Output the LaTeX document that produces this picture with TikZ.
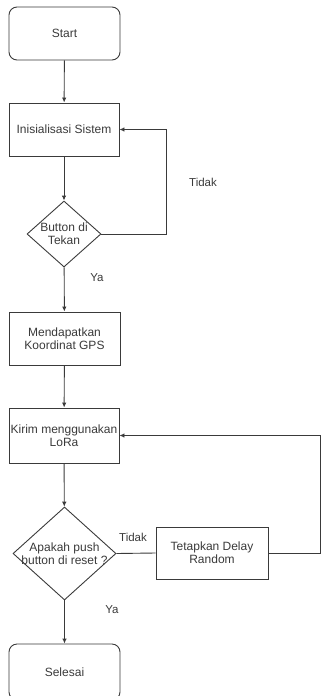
\documentclass[tikz,border=0pt]{standalone}
\usepackage{fontspec}
\setmainfont{Liberation Sans}
\usetikzlibrary{shapes.geometric,arrows.meta}
\definecolor{ink}{HTML}{3A3A3A}
\begin{document}
\begin{tikzpicture}[x=1pt,y=-1pt,
  font=\fontsize{12}{13}\selectfont, text=ink,
  every node/.style={inner sep=0pt, align=center},
  proc/.style={draw=ink, line width=0.9pt, rectangle},
  term/.style={draw=ink, line width=0.9pt, rectangle, rounded corners=8pt},
  decide/.style={draw=ink, line width=0.9pt, diamond},
  flow/.style={draw=ink, line width=0.9pt, -{Latex[length=5pt,width=4.5pt]}},
  plain/.style={draw=ink, line width=0.9pt},
  lbl/.style={font=\fontsize{11.5}{13}\selectfont}]
  \useasboundingbox (0,0) rectangle (321,696);

  % process steps
  \node[term, minimum width=111pt, minimum height=53pt] (start) at (64.5,33.5) {Start};
  \node[proc, minimum width=110pt, minimum height=53pt] (init) at (64,129.5) {Inisialisasi Sistem};
  \node[decide, minimum width=74pt, minimum height=66pt,
        label={[align=center]center:Button di\\Tekan}] (btn) at (64,234) {};
  \node[proc, minimum width=111pt, minimum height=53pt] (gps) at (64.5,338.5) {Mendapatkan\\Koordinat GPS};
  \node[proc, minimum width=110pt, minimum height=55pt] (lora) at (64,435.5) {Kirim menggunakan\\LoRa};
  \node[decide, minimum width=103pt, minimum height=93pt,
        label={[align=center]center:Apakah push\\button di reset ?}] (reset) at (64.5,553.5) {};
  \node[proc, minimum width=112pt, minimum height=52pt] (delay) at (212,553) {Tetapkan Delay\\Random};
  \node[term, minimum width=111pt, minimum height=56pt] (done) at (64.5,672) {Selesai};

  % return points of the loops
  \coordinate (loopA) at (166,129.5);
  \coordinate (loopB) at (320,553);

  % connectors
  \draw[flow] (start) -- (init);
  \draw[flow] (init) -- (btn);
  \draw[flow] (btn.east) -| (loopA) -- (init.east);
  \draw[flow] (btn) -- (gps);
  \draw[flow] (gps) -- (lora);
  \draw[flow] (lora) -- (reset);
  \draw[plain] (reset.east) -- (delay.west);
  \draw[flow] (delay.east) -- (loopB) |- (lora.east);
  \draw[flow] (reset) -- (done);

  % branch labels
  \node[lbl] (t1) at (203,182) {Tidak};
  \node[lbl] (y1) at (97,278) {Ya};
  \node[lbl] (t2) at (133,537) {Tidak};
  \node[lbl] (y2) at (112,610) {Ya};
\end{tikzpicture}
\end{document}
